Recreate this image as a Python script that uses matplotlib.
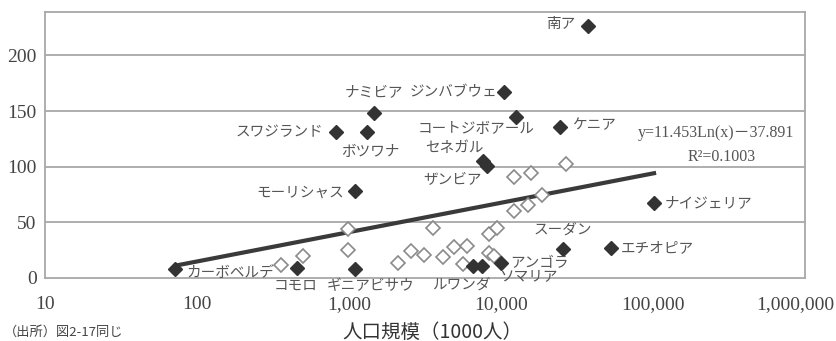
import numpy as np
import matplotlib
matplotlib.use("Agg")
import matplotlib.pyplot as plt
from matplotlib.transforms import offset_copy

# countries with a name attached (filled markers)
names = ["南ア", "ジンバブウェ", "ナミビア", "スワジランド", "ボツワナ",
         "コートジボアール", "ケニア", "セネガル", "ザンビア", "モーリシャス",
         "ナイジェリア", "エチオピア", "スーダン", "アンゴラ", "ソマリア",
         "ルワンダ", "ギニアビサウ", "コモロ", "カーボベルデ"]
named_pop = [37300, 10500, 1460, 820, 1310,
             12560, 24400, 7620, 8090, 1095,
             101600, 53000, 25600, 10000, 7500,
             6550, 1095, 455, 72]
named_val = [226.5, 167, 148, 131, 131,
             145, 136, 105, 100.7, 78,
             67.4, 27, 26, 13.5, 10.8,
             10.8, 8, 9, 8]

# remaining countries (open markers)
other_pop = [357, 498, 985, 985, 2100, 2560, 3110, 3570, 4150, 4910, 5620,
             5970, 8340, 9000, 8340, 9420, 12190, 15070, 18620, 12190, 15740, 26800]
other_val = [11.7, 19.8, 44.0, 25.2, 13.5, 24.3, 20.7, 44.9, 18.9, 27.9, 12.6,
             28.8, 22.5, 19.8, 39.6, 44.9, 60.2, 65.6, 74.6, 90.8, 94.4, 102.5]

# log trend line
coef_a, coef_b = 11.453, -37.891
r2 = 0.1003

yticks = [0, 50, 100, 150, 200]
xticks = [10, 100, 1000, 10000, 100000, 1000000]
xtick_labels = ["10", "100", "1,000", "10,000", "100,000", "1,000,000"]

# label offsets in pixels (dx, dy, ha)
label_pos = {
    "南ア": (-13, 2, "right"), "ジンバブウェ": (-7, 0, "right"),
    "ナミビア": (0, 21, "center"), "スワジランド": (-13, 0, "right"),
    "ボツワナ": (4, -20, "center"), "コートジボアール": (-40, -12, "center"),
    "ケニア": (12, 2, "left"), "セネガル": (-29, 13, "center"),
    "ザンビア": (-34, -14, "center"), "モーリシャス": (-11, -1, "right"),
    "ナイジェリア": (11, 0, "left"), "エチオピア": (10, 0, "left"),
    "スーダン": (0, 18, "center"), "アンゴラ": (9, 0, "left"),
    "ソマリア": (46, -10, "center"), "ルワンダ": (-12, -20, "center"),
    "ギニアビサウ": (16, -17, "center"), "コモロ": (-1, -18, "center"),
    "カーボベルデ": (11, -4, "left"),
}

jp = ["Noto Sans CJK JP", "DejaVu Sans"]
serif = "Liberation Serif"
grid_c = "#a8a8a8"

fig = plt.figure(figsize=(8.36, 3.41), dpi=100)
ax = fig.add_axes([45 / 836, 63 / 341, 760 / 836, 266 / 341])
ax.set_xscale("log")
ax.set_xlim(10, 1000000)
ax.set_ylim(0, 239)

for y in yticks[1:]:
    ax.axhline(y, color=grid_c, lw=1.3, zorder=0)
for s in ax.spines.values():
    s.set_color(grid_c)
    s.set_linewidth(1.3)

ax.set_yticks(yticks)
ax.set_yticklabels([str(v) for v in yticks], fontfamily=serif, fontsize=14, color="#444")
ax.set_xticks(xticks)
ax.set_xticklabels(xtick_labels, fontfamily=serif, fontsize=14, color="#444")
ax.xaxis.set_minor_locator(matplotlib.ticker.NullLocator())
ax.tick_params(axis="x", length=0, pad=13)
ax.tick_params(axis="y", length=0, pad=6)

# pull the last x label in so it stays inside the figure
last = ax.get_xticklabels()[-1]
last.set_transform(offset_copy(last.get_transform(), fig=fig, x=-10, y=0, units="dots"))

xs = np.geomspace(min(named_pop), max(named_pop), 50)
ax.plot(xs, coef_a * np.log(xs) + coef_b, color="#3a3a3a", lw=3, zorder=2)

ax.plot(other_pop, other_val, "D", ms=7, mfc="white", mec="#8a8a8a", mew=1.2,
        ls="none", zorder=3)
ax.plot(named_pop, named_val, "D", ms=7.3, mfc="#333", mec="#333", ls="none", zorder=4)

for n, x, y in zip(names, named_pop, named_val):
    dx, dy, ha = label_pos[n]
    ax.annotate(n, (x, y), xytext=(dx, dy), textcoords="offset pixels",
                ha=ha, va="center", fontsize=10.5, color="#555", family=jp,
                annotation_clip=False, zorder=5)

fig.text(716 / 836, 1 - 133 / 341, f"y={coef_a}Ln(x)－{abs(coef_b)}",
         ha="center", va="center", fontsize=11.5, color="#555",
         family=[serif, "Noto Sans CJK JP"])
fig.text(722 / 836, 1 - 157 / 341, f"R²={r2}",
         ha="center", va="center", fontsize=11.5, color="#555",
         family=[serif, "DejaVu Serif"])

fig.text(432 / 836, 1 - 332 / 341, "人口規模（1000人）", ha="center", va="center",
         fontsize=14, color="#333", family=jp)
fig.text(4 / 836, 2 / 341, "（出所）図2-17同じ", ha="left", va="bottom",
         fontsize=9.5, color="#444", family=jp)

fig.savefig("out.png", dpi=100)
